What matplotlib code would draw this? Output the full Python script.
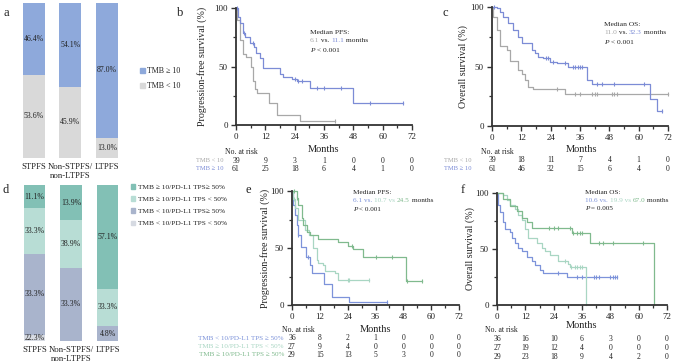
import numpy as np
import matplotlib
matplotlib.use('Agg')
import matplotlib.pyplot as plt
from matplotlib.patches import Patch
from matplotlib.transforms import blended_transform_factory

plt.rcParams['font.family'] = ['Liberation Serif', 'DejaVu Serif']

# ---------------- data ----------------
bar_cats = ['STPFS', 'Non-STPFS/\nnon-LTPFS', 'LTPFS']
a_tmb_high = [46.4, 54.1, 87.0]
a_tmb_low = [53.6, 45.9, 13.0]
a_legend = ['TMB ≥ 10', 'TMB < 10']

# panel d: segment heights as drawn (bottom -> top) and printed percentages
d_seg_lowlow = [4.0, 0.0, 0.0]
d_seg_lowhigh = [51.7, 47.1, 9.6]
d_seg_highlow = [29.3, 30.4, 24.0]
d_seg_highhigh = [15.0, 22.5, 66.4]
d_lab_lowlow = [22.3, None, None]
d_lab_lowhigh = [33.3, 33.3, 4.8]
d_lab_highlow = [33.3, 38.9, 33.3]
d_lab_highhigh = [11.1, 13.9, 57.1]
d_legend = ['TMB ≥ 10/PD-L1 TPS≥ 50%', 'TMB ≥ 10/PD-L1 TPS < 50%',
            'TMB < 10/PD-L1 TPS≥ 50%', 'TMB < 10/PD-L1 TPS < 50%']

month_ticks = [0, 12, 24, 36, 48, 60, 72]

# panel b (PFS by TMB)
b_low_t = [0, 0.5, 1.6, 3.0, 4.1, 6.0, 7.1, 7.8, 8.5, 13.6, 16.6, 26.2, 40.5]
b_low_s = [100, 90, 73, 61, 58, 50, 38, 31, 27, 18.5, 8.5, 3.7, 3.7]
b_low_cens = [40.5]
b_high_t = [0, 0.95, 1.6, 3.0, 3.7, 5.7, 7.4, 8.2, 9.8, 11.2, 18.0, 19.4, 22.8, 24.8, 30.3, 48.0, 68.5]
b_high_s = [100, 92.6, 86.9, 78.3, 74.9, 69.8, 67.0, 61.3, 57.0, 48.4, 43.6, 41.3, 39.6, 37.3, 31.3, 19.1, 19.1]
b_high_cens = [0.5, 3.3, 7.0, 24.1, 25.5, 26.9, 33.3, 36.2, 43.0, 54.8, 68.5]

# panel c (OS by TMB)
c_low_t = [0, 0.5, 1.9, 3.3, 6.0, 7.4, 10.8, 12.1, 13.5, 14.9, 16.9, 29.9, 72]
c_low_s = [100, 92, 81, 67, 64, 55, 47, 44, 39, 33, 31, 27, 27]
c_low_cens = [26.5, 34, 36, 41, 42, 43, 49, 50, 51, 72]
c_high_t = [0, 1.9, 3.3, 4.6, 6.7, 8.7, 10.8, 12.1, 16.2, 17.6, 19.0, 21.0, 23.7, 26.5, 31.2, 38.7, 40.8, 64.5, 67.4, 69.4]
c_high_s = [100, 98.9, 96, 92, 86.3, 80.7, 75.1, 69.5, 63.9, 61.1, 57.7, 56.9, 53.8, 53.2, 49.9, 38.7, 35.6, 23, 12.5, 12.5]
c_high_cens = [1, 22, 23, 25, 30, 33, 34, 35, 36, 37, 43, 45, 50, 62, 69.4]

# panel e (PFS by TMB/PD-L1)
e1_t = [0, 0.6, 1.3, 2.0, 2.7, 3.9, 6.1, 7.8, 8.5, 13.9, 17.1, 24.6, 40.8]
e1_s = [100, 88, 79, 70, 61, 51, 42, 35, 28, 18, 7, 3, 3]
e1_cens = [2.7, 7.0, 40.8]
e2_t = [0, 0.6, 1.3, 2.7, 5.6, 7.3, 9.2, 10.6, 11.4, 13.5, 14.2, 18.5, 20.0, 33.0]
e2_s = [100, 93, 85, 75, 66, 61, 50, 39.5, 36.5, 35, 30, 28, 22, 22]
e2_cens = [1.0, 6.5, 24.0, 24.5, 33.0]
e3_t = [0, 2.0, 2.7, 4.2, 4.9, 6.3, 7.8, 11.4, 20.0, 24.3, 26.4, 30.7, 49.0, 55.9]
e3_s = [100, 94, 88, 76, 70, 64, 61, 58, 55, 52, 49, 42, 21, 21]
e3_cens = [1.0, 2.0, 26.0, 36.0, 43.0, 49.5, 55.9]

# panel f (OS by TMB/PD-L1)
f1_t = [0, 0.3, 1.3, 2.7, 3.4, 5.5, 6.2, 7.6, 9.0, 10.5, 12.6, 14.7, 16.1, 18.2, 19.6, 29.5, 50.7]
f1_s = [100, 89, 83, 74, 68, 65, 60, 55, 51, 48, 43, 39, 36, 31, 29, 25, 25]
f1_cens = [26, 34, 36, 41, 42, 43, 48, 49, 50, 50.7]
f2_t = [0, 2.7, 4.1, 5.5, 7.6, 9.0, 10.5, 11.9, 13.3, 16.8, 18.9, 20.3, 22.5, 26.0, 30.2, 30.9, 37.6]
f2_s = [100, 98, 94, 89, 86, 80, 76, 68, 60, 55, 51, 48, 45, 39, 37, 34, 0]
f2_cens = [29, 31.5, 33, 34, 35, 36]
f3_t = [0, 2.7, 5.5, 8.3, 10.5, 12.6, 14.7, 31.6, 39.4, 66.5]
f3_s = [100, 95, 88, 84, 78, 74, 69, 64, 55, 0]
f3_cens = [22, 24, 26, 31, 32, 34, 35, 36, 43, 45, 49, 62]

b_risk_low = [39, 9, 3, 1, 0, 0, 0]
b_risk_high = [61, 25, 18, 6, 4, 1, 0]
c_risk_low = [39, 18, 11, 7, 4, 1, 0]
c_risk_high = [61, 46, 32, 15, 6, 4, 0]
e_risk = [[36, 8, 2, 1, 0, 0, 0], [27, 9, 4, 0, 0, 0, 0], [29, 15, 13, 5, 3, 0, 0]]
f_risk = [[36, 16, 10, 6, 3, 0, 0], [27, 19, 12, 4, 0, 0, 0], [29, 23, 18, 9, 4, 2, 0]]
grp_tmb = ['TMB < 10', 'TMB ≥ 10']
grp_combo = ['TMB < 10/PD-L1 TPS ≥ 50%', 'TMB ≥ 10/PD-L1 TPS < 50%', 'TMB ≥ 10/PD-L1 TPS ≥ 50%']

# ---------------- style ----------------
C_GREY_BAR = '#D9D9D9'
C_BLUE_BAR = '#8EA9DB'
C_D = ['#D6DAE2', '#A9B4CC', '#B8DDD5', '#82C0B5']  # lowlow, lowhigh, highlow, highhigh
C_KM_GREY = '#A8A8A8'
C_KM_BLUE = '#7C8CD6'
C_E = ['#7D93DA', '#A9D6C3', '#80BA8E']
TXT = '#222222'

W, H = 676, 364
fig = plt.figure(figsize=(W / 100, H / 100), dpi=100)


def px_axes(x0, x1, ytop, ybot):
    return fig.add_axes([x0 / W, 1 - ybot / H, (x1 - x0) / W, (ybot - ytop) / H])


def ftxt(x, y, s, **kw):
    kw.setdefault('color', TXT)
    return fig.text(x / W, 1 - y / H, s, **kw)


def rich(x, y, parts, fs, host):
    s0, c0, st0 = parts[0]
    t = fig.text(x / W, 1 - y / H, s0, color=c0, style=st0, fontsize=fs, va='center', ha='left')
    for s, c, st in parts[1:]:
        t = host.annotate(s, xy=(1, 0), xycoords=t, va='bottom', ha='left', color=c, style=st, fontsize=fs)


# ---------------- panel a ----------------
ax_a = px_axes(15.2, 125.3, 3, 158)
xa = np.arange(len(bar_cats))
ax_a.bar(xa, a_tmb_low, width=0.6, color=C_GREY_BAR)
ax_a.bar(xa, a_tmb_high, bottom=a_tmb_low, width=0.6, color=C_BLUE_BAR)
for i in range(3):
    ax_a.text(i, a_tmb_low[i] / 2, f'{a_tmb_low[i]:.1f}%', ha='center', va='center', fontsize=5.6, color=TXT)
    ax_a.text(i, a_tmb_low[i] + a_tmb_high[i] / 2, f'{a_tmb_high[i]:.1f}%', ha='center', va='center', fontsize=5.6, color=TXT)
    ax_a.text(i, -0.035, bar_cats[i], transform=blended_transform_factory(ax_a.transData, ax_a.transAxes),
              ha='center', va='top', fontsize=6.3, color=TXT, linespacing=1.05)
ax_a.set_xlim(-0.5, 2.5)
ax_a.set_ylim(0, 100)
ax_a.axis('off')
fig.legend(handles=[Patch(color=C_BLUE_BAR), Patch(color=C_GREY_BAR)], labels=a_legend,
           loc='upper left', bbox_to_anchor=(140 / W, 1 - 67 / H), frameon=False, fontsize=5.8,
           handlelength=0.6, handleheight=0.6, handletextpad=0.3, labelspacing=0.9, borderpad=0,
           borderaxespad=0, labelcolor=TXT)

# ---------------- panel d ----------------
ax_d = px_axes(16.3, 125.8, 185, 341)
xd = np.arange(len(bar_cats))
bottoms = np.zeros(3)
for segs, labs, col in [(d_seg_lowlow, d_lab_lowlow, C_D[0]), (d_seg_lowhigh, d_lab_lowhigh, C_D[1]),
                        (d_seg_highlow, d_lab_highlow, C_D[2]), (d_seg_highhigh, d_lab_highhigh, C_D[3])]:
    ax_d.bar(xd, segs, bottom=bottoms, width=0.58, color=col)
    for i in range(3):
        if labs[i] is not None:
            ax_d.text(i, bottoms[i] + segs[i] / 2, f'{labs[i]:.1f}%', ha='center', va='center',
                      fontsize=5.6, color=TXT)
    bottoms += np.array(segs)
for i in range(3):
    ax_d.text(i, -0.035, bar_cats[i], transform=blended_transform_factory(ax_d.transData, ax_d.transAxes),
              ha='center', va='top', fontsize=6.3, color=TXT, linespacing=1.05)
ax_d.set_xlim(-0.5, 2.5)
ax_d.set_ylim(0, 100)
ax_d.axis('off')
fig.legend(handles=[Patch(color=C_D[3]), Patch(color=C_D[2]), Patch(color=C_D[1]), Patch(color=C_D[0])],
           labels=d_legend, loc='upper left', bbox_to_anchor=(131 / W, 1 - 184 / H), frameon=False,
           fontsize=5.3, handlelength=0.6, handleheight=0.6, handletextpad=0.3, labelspacing=0.85,
           borderpad=0, borderaxespad=0, labelcolor=TXT)


# ---------------- KM helpers ----------------
def surv_at(t, s, tc):
    idx = np.searchsorted(np.array(t), np.array(tc), side='right') - 1
    return np.array(s)[idx]


def km_axes(x0, x1, ytop, ybot, ylabel, ylab_x):
    ax = px_axes(x0, x1, ytop, ybot)
    ax.set_xlim(0, 72)
    ax.set_ylim(0, 100)
    ax.set_xticks(month_ticks)
    ax.set_xticks(np.arange(6, 72, 12), minor=True)
    ax.set_yticks([0, 50, 100])
    ax.set_yticks([25, 75], minor=True)
    for sp in ['top', 'right']:
        ax.spines[sp].set_visible(False)
    for sp in ['left', 'bottom']:
        ax.spines[sp].set_linewidth(1.3)
        ax.spines[sp].set_color('#333333')
    ax.tick_params(which='major', direction='out', length=3.5, width=1.0, labelsize=6.5, pad=2.5,
                   color='#333333', labelcolor=TXT)
    ax.tick_params(which='minor', direction='out', length=2.5, width=0.9, color='#333333')
    ax.patch.set_alpha(0)
    ax.text(ylab_x, 0.5, ylabel, transform=ax.transAxes, rotation=90, ha='center', va='center',
            fontsize=7.2, color=TXT)
    return ax


def km_curve(ax, t, s, cens, color):
    ax.step(t, s, where='post', color=color, lw=0.9, clip_on=False)
    ax.plot(cens, surv_at(t, s, cens), ls='none', marker='|', ms=3, mew=0.8, color=color, clip_on=False)


def risk_table(ax, rows, colors, labels, ys, lab_right, head_x, head_y, months_xy, lab_fs=5.2, fs=5.5):
    tr = blended_transform_factory(ax.transData, fig.transFigure)
    for r, row in enumerate(rows):
        for m, v in zip(month_ticks, row):
            ax.text(m, 1 - ys[r] / H, str(v), transform=tr, ha='center', va='center', fontsize=fs, color=TXT)
        if labels is not None:
            ftxt(lab_right, ys[r], labels[r], ha='right', va='center', fontsize=lab_fs, color=colors[r])
    ftxt(head_x, head_y, 'No. at risk', ha='left', va='center', fontsize=5.6)
    ftxt(months_xy[0], months_xy[1], 'Months', ha='center', va='center', fontsize=7.5)


# ---------------- panel b ----------------
ax_b = km_axes(236, 412, 8, 125, 'Progression-free survival (%)', -0.193)
km_curve(ax_b, b_low_t, b_low_s, b_low_cens, C_KM_GREY)
km_curve(ax_b, b_high_t, b_high_s, b_high_cens, C_KM_BLUE)
risk_table(ax_b, [b_risk_low, b_risk_high], [C_KM_GREY, C_KM_BLUE], grp_tmb, [161, 169], 223, 225, 152,
           (324, 150), lab_fs=4.7)
rich(310, 32, [('Median PFS:', TXT, 'normal')], 5.4, ax_b)
rich(310, 41, [('6.1', C_KM_GREY, 'normal'), (' vs. ', TXT, 'normal'), ('11.1', C_KM_BLUE, 'normal'),
               (' months', TXT, 'normal')], 5.4, ax_b)
rich(310, 50, [('P', TXT, 'italic'), (' < 0.001', TXT, 'normal')], 5.4, ax_b)

# ---------------- panel c ----------------
ax_c = km_axes(492, 668, 7, 126, 'Overall survival (%)', -0.165)
km_curve(ax_c, c_low_t, c_low_s, c_low_cens, C_KM_GREY)
km_curve(ax_c, c_high_t, c_high_s, c_high_cens, C_KM_BLUE)
risk_table(ax_c, [c_risk_low, c_risk_high], [C_KM_GREY, C_KM_BLUE], grp_tmb, [160, 169], 472, 481, 152,
           (581, 150), lab_fs=4.7)
rich(604, 24, [('Median OS:', TXT, 'normal')], 5.4, ax_c)
rich(604, 33, [('11.0', C_KM_GREY, 'normal'), (' vs. ', TXT, 'normal'), ('32.3', C_KM_BLUE, 'normal'),
               (' months', TXT, 'normal')], 5.4, ax_c)
rich(604, 42, [('P', TXT, 'italic'), (' < 0.001', TXT, 'normal')], 5.4, ax_c)

# ---------------- panel e ----------------
ax_e = km_axes(292, 459, 191, 305, 'Progression-free survival (%)', -0.162)
km_curve(ax_e, e1_t, e1_s, e1_cens, C_E[0])
km_curve(ax_e, e2_t, e2_s, e2_cens, C_E[1])
km_curve(ax_e, e3_t, e3_s, e3_cens, C_E[2])
risk_table(ax_e, e_risk, C_E, grp_combo, [338, 347, 355], 284, 282, 330, (375, 329), lab_fs=5.1)
rich(353, 192, [('Median PFS:', TXT, 'normal')], 5.2, ax_e)
rich(353, 201, [('6.1 vs. ', C_E[0], 'normal'), ('10.7 vs ', C_E[1], 'normal'), ('24.5', C_E[2], 'normal'),
                (' months', TXT, 'normal')], 5.2, ax_e)
rich(353, 210, [('P', TXT, 'italic'), (' < 0.001', TXT, 'normal')], 5.2, ax_e)

# ---------------- panel f ----------------
ax_f = km_axes(497, 667, 193, 305, 'Overall survival (%)', -0.159)
km_curve(ax_f, f1_t, f1_s, f1_cens, C_E[0])
km_curve(ax_f, f2_t, f2_s, f2_cens, C_E[1])
km_curve(ax_f, f3_t, f3_s, f3_cens, C_E[2])
risk_table(ax_f, f_risk, C_E, None, [339, 348, 357], 0, 485, 330, (582, 325))
rich(585, 192, [('Median OS:', TXT, 'normal')], 5.2, ax_f)
rich(585, 200, [('10.6 vs. ', C_E[0], 'normal'), ('19.9 vs ', C_E[1], 'normal'), ('67.0', C_E[2], 'normal'),
                (' months', TXT, 'normal')], 5.2, ax_f)
rich(585, 208, [('P', TXT, 'italic'), (' = 0.005', TXT, 'normal')], 5.2, ax_f)

# ---------------- panel letters ----------------
for lx, ly, lt in [(6, 13, 'a'), (180, 13, 'b'), (445, 13, 'c'), (6, 190, 'd'), (248, 190, 'e'), (463, 190, 'f')]:
    ftxt(lx, ly, lt, ha='center', va='center', fontsize=9)

fig.savefig('out.png', dpi=100)
